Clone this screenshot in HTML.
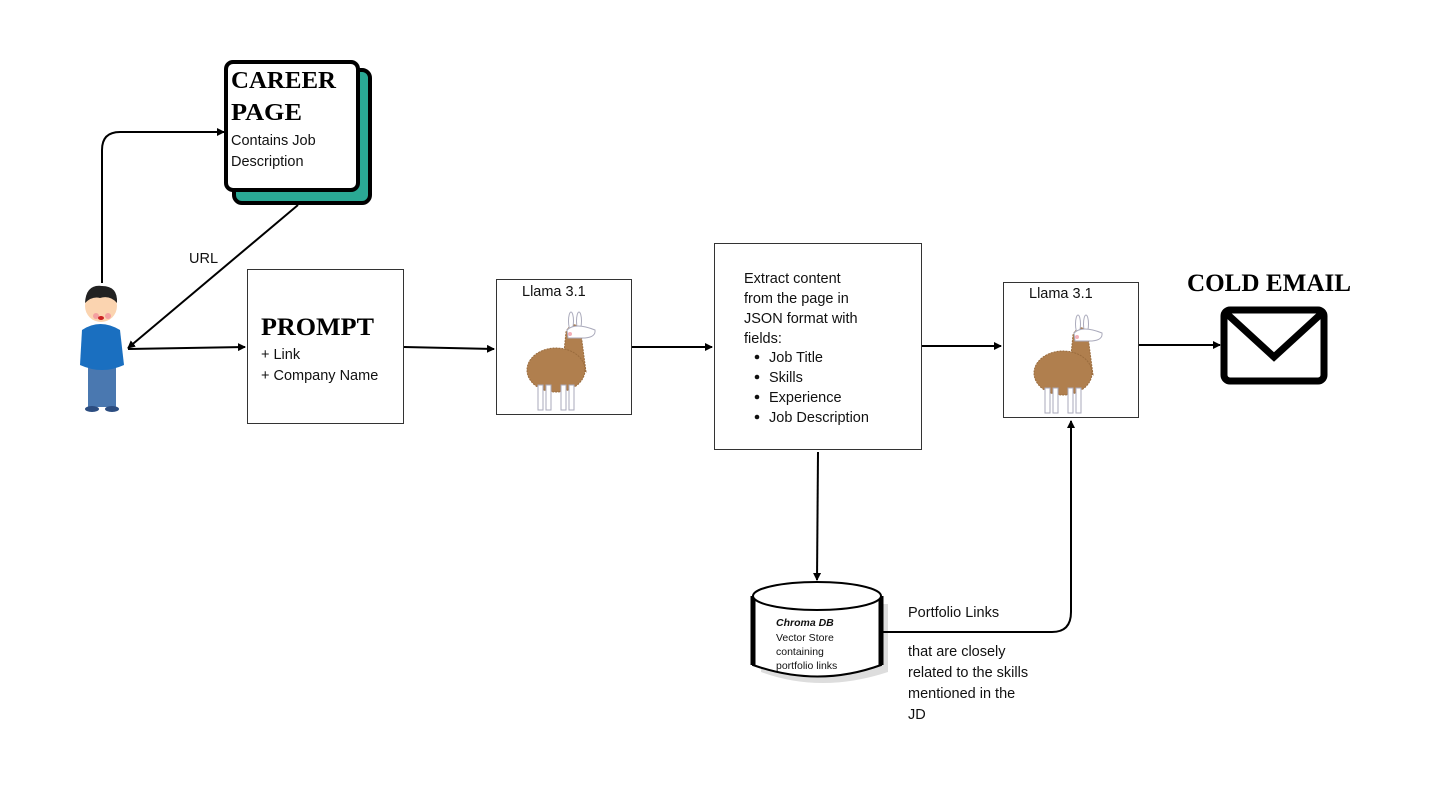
<!DOCTYPE html>
<html><head><meta charset="utf-8"><style>
html,body{margin:0;padding:0;background:#fff;}
svg{display:block;font-family:"Liberation Sans",sans-serif;}
.t{font-size:14.5px;fill:#111;}
.h{font-family:"Liberation Serif",serif;font-weight:bold;fill:#000;}
</style></head><body>
<svg width="1438" height="788" viewBox="0 0 1438 788" xmlns="http://www.w3.org/2000/svg">
<defs>
<marker id="a" markerWidth="8" markerHeight="8" refX="7" refY="4" orient="auto" markerUnits="userSpaceOnUse"><path d="M0,0 L8,4 L0,8 z" fill="#000"/></marker>
<g id="llama">
<path d="M562,372 L566,332 Q570,322 580,326 L586,372 Z" fill="#b07f4e" stroke="#9a6c3e" stroke-dasharray="2 1"/>
<ellipse cx="556" cy="370" rx="29" ry="22" fill="#b07f4e" stroke="#9a6c3e" stroke-dasharray="2 1"/>
<rect x="538" y="385" width="5" height="25" fill="#fff" stroke="#aab"/>
<rect x="546" y="385" width="5" height="25" fill="#fff" stroke="#aab"/>
<rect x="561" y="385" width="5" height="25" fill="#fff" stroke="#aab"/>
<rect x="569" y="385" width="5" height="25" fill="#fff" stroke="#aab"/>
<ellipse cx="571" cy="321" rx="2.5" ry="9" fill="#fff" stroke="#aab"/>
<ellipse cx="579" cy="321" rx="2.5" ry="9" fill="#fff" stroke="#aab"/>
<path d="M567,330 Q575,322 595,330 Q596,337 585,338 L568,338 Z" fill="#fff" stroke="#aab"/>
<circle cx="570" cy="334" r="2" fill="#f4b0b8"/>
</g>
</defs>

<!-- career page -->
<rect x="234" y="70" width="136" height="133" rx="8" fill="#2aa894" stroke="#000" stroke-width="4"/>
<rect x="226" y="62" width="132" height="128" rx="7" fill="#fff" stroke="#000" stroke-width="4"/>
<text class="h" x="231" y="88" font-size="24" textLength="105" lengthAdjust="spacingAndGlyphs">CAREER</text>
<text class="h" x="231" y="120" font-size="24" textLength="71" lengthAdjust="spacingAndGlyphs">PAGE</text>
<text class="t" x="231" y="145">Contains Job</text>
<text class="t" x="231" y="166">Description</text>

<!-- person -->
<rect x="88" y="365" width="28" height="42" fill="#4a78b0"/>
<ellipse cx="92" cy="409" rx="7" ry="3" fill="#2c4d80"/><ellipse cx="112" cy="409" rx="7" ry="3" fill="#2c4d80"/>
<path d="M82,330 Q100,318 120,330 L124,365 Q102,375 80,365 Z" fill="#1a6fc0"/>
<circle cx="101" cy="306" r="16" fill="#fbd4b0"/>
<path d="M85,303 Q86,284 102,286 Q118,286 117,303 Q110,295 100,298 Q92,296 85,303Z" fill="#222"/>
<circle cx="96" cy="316" r="3" fill="#f3a0a0"/><circle cx="108" cy="316" r="3" fill="#f3a0a0"/>
<ellipse cx="101" cy="318" rx="3" ry="2" fill="#c22"/>

<!-- prompt -->
<rect x="247.5" y="269.5" width="156" height="154" fill="#fff" stroke="#333"/>
<text class="h" x="261" y="335" font-size="25" textLength="113" lengthAdjust="spacingAndGlyphs">PROMPT</text>
<text class="t" x="261" y="359">+ Link</text>
<text class="t" x="261" y="380">+ Company Name</text>

<!-- llama 1 -->
<rect x="496.5" y="279.5" width="135" height="135" fill="#fff" stroke="#333"/>
<text class="t" x="522" y="296">Llama 3.1</text>
<use href="#llama"/>

<!-- extract -->
<rect x="714.5" y="243.5" width="207" height="206" fill="#fff" stroke="#333"/>
<text class="t" x="744" y="283">Extract content</text>
<text class="t" x="744" y="303">from the page in</text>
<text class="t" x="744" y="323">JSON format with</text>
<text class="t" x="744" y="343">fields:</text>
<g class="t"><circle cx="757" cy="357" r="2.3" fill="#111"/><text x="769" y="362">Job Title</text>
<circle cx="757" cy="377" r="2.3" fill="#111"/><text x="769" y="382">Skills</text>
<circle cx="757" cy="397" r="2.3" fill="#111"/><text x="769" y="402">Experience</text>
<circle cx="757" cy="417" r="2.3" fill="#111"/><text x="769" y="422">Job Description</text></g>

<!-- llama 2 -->
<rect x="1003.5" y="282.5" width="135" height="135" fill="#fff" stroke="#333"/>
<text class="t" x="1029" y="298">Llama 3.1</text>
<use href="#llama" transform="translate(507,3)"/>

<!-- cold email -->
<text class="h" x="1187" y="291" font-size="25" textLength="164" lengthAdjust="spacingAndGlyphs">COLD EMAIL</text>
<rect x="1224" y="310" width="100" height="71" rx="6" fill="#fff" stroke="#000" stroke-width="7"/>
<path d="M1226,313 L1274,357 L1322,313" fill="none" stroke="#000" stroke-width="7"/>

<!-- chroma db -->
<path d="M758,600 L758,668 Q818,690 885,668 L885,600" fill="#ddd" stroke="none" transform="translate(3,4)"/>
<path d="M753,596 L753,665 Q818,688 881,665 L881,596" fill="#fff" stroke="#000" stroke-width="2"/>
<path d="M753,596 L753,665" stroke="#000" stroke-width="5"/>
<path d="M881,596 L881,665" stroke="#000" stroke-width="5"/>
<ellipse cx="817" cy="596" rx="64" ry="14" fill="#fff" stroke="#000" stroke-width="2"/>
<text x="776" y="626" font-size="10.5" font-weight="bold" font-style="italic" fill="#111">Chroma DB</text>
<text x="776" y="641" font-size="10.5" fill="#111">Vector Store</text>
<text x="776" y="655" font-size="10.5" fill="#111">containing</text>
<text x="776" y="669" font-size="10.5" fill="#111">portfolio links</text>

<!-- connectors -->
<g fill="none" stroke="#000" stroke-width="2">
<path d="M102,283 L102,150 Q102,132 120,132 L224,132" marker-end="url(#a)"/>
<path d="M298,205 L128,348" marker-end="url(#a)"/>
<path d="M128,349 L245,347" marker-end="url(#a)"/>
<path d="M404,347 L494,349" marker-end="url(#a)"/>
<path d="M632,347 L712,347" marker-end="url(#a)"/>
<path d="M922,346 L1001,346" marker-end="url(#a)"/>
<path d="M1139,345 L1220,345" marker-end="url(#a)"/>
<path d="M818,452 L817,580" marker-end="url(#a)"/>
<path d="M882,632 L1052,632 Q1071,632 1071,612 L1071,421" marker-end="url(#a)"/>
</g>
<text class="t" x="189" y="263">URL</text>
<text class="t" x="908" y="617">Portfolio Links</text>
<text class="t" x="908" y="656">that are closely</text>
<text class="t" x="908" y="677">related to the skills</text>
<text class="t" x="908" y="698">mentioned in the</text>
<text class="t" x="908" y="719">JD</text>
</svg>
</body></html>
